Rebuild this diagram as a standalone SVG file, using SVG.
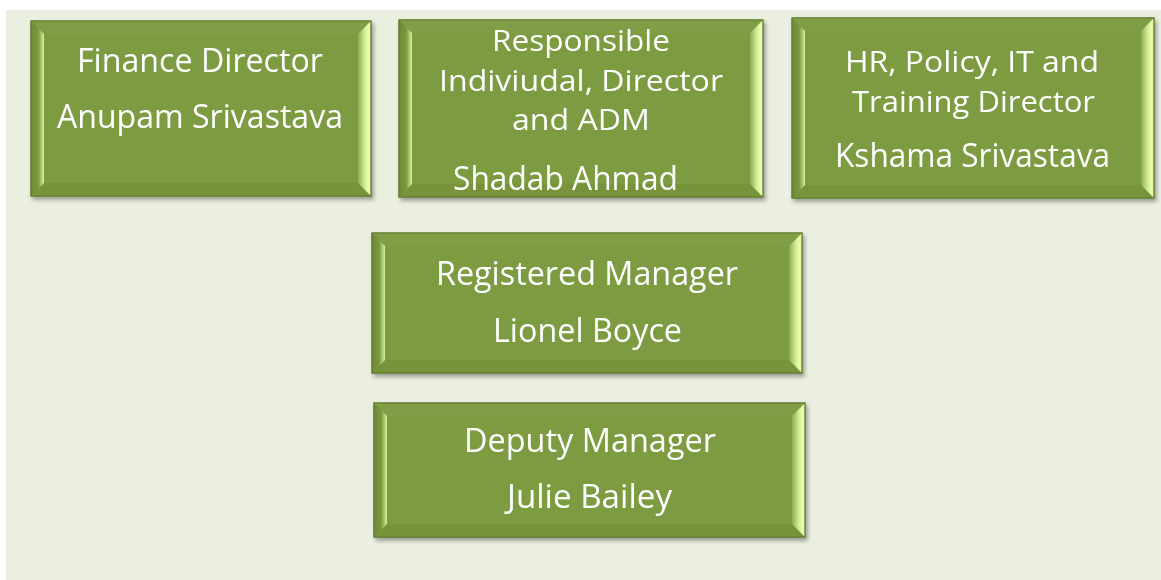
<svg xmlns="http://www.w3.org/2000/svg" width="1161" height="580" viewBox="0 0 1161 580">
<style>
.face{fill:#7D9B40;stroke:#5E7A2C;stroke-width:1}
.top{fill:#809E44}
.bot{fill:#77943B}
.lft{fill:url(#gl)}
.rgt{fill:url(#gr)}
.t{font-family:"Open Sans","Liberation Sans",sans-serif;font-size:32px;fill:#FFFFFF}
.tt{font-size:29px}
</style>
<defs>
<linearGradient id="gl" x1="0" y1="0" x2="1" y2="0">
<stop offset="0" stop-color="#6C8935"/>
<stop offset="0.55" stop-color="#7B983F"/>
<stop offset="0.85" stop-color="#B5D478"/>
<stop offset="1" stop-color="#D8F59C"/>
</linearGradient>
<linearGradient id="gr" x1="0" y1="0" x2="1" y2="0">
<stop offset="0" stop-color="#8DAC4F"/>
<stop offset="0.5" stop-color="#CFEA92"/>
<stop offset="0.85" stop-color="#F0FFB8"/>
<stop offset="1" stop-color="#B5D178"/>
</linearGradient>
<filter id="sh" x="-5%" y="-5%" width="112%" height="115%">
<feDropShadow dx="2" dy="3" stdDeviation="2" flood-color="#000" flood-opacity="0.35"/>
</filter>
</defs>
<rect x="0" y="0" width="1161" height="580" fill="#FFFFFF"/>
<rect x="6" y="10" width="1155" height="570" fill="#EBEFDF"/>
<g id="connectors"></g>

<g id="finance-director" filter="url(#sh)">
<rect class="face" x="31" y="21" width="340" height="175"/>
<polygon class="top" points="31,21 371,21 358,34 44,34"/>
<polygon class="bot" points="31,196 371,196 358,183 44,183"/>
<polygon class="lft" points="31,21 44,34 44,183 31,196"/>
<polygon class="rgt" points="371,21 358,34 358,183 371,196"/>
<rect x="31" y="21" width="340" height="175" fill="none" stroke="#5E7A2C" stroke-width="1"/>
<text class="t" x="77" y="72" textLength="246" lengthAdjust="spacingAndGlyphs">Finance Director</text>
<text class="t" x="57" y="128" textLength="286" lengthAdjust="spacingAndGlyphs">Anupam Srivastava</text>
</g>

<g id="responsible-individual" filter="url(#sh)">
<rect class="face" x="399" y="20" width="364" height="177"/>
<polygon class="top" points="399,20 763,20 750,33 412,33"/>
<polygon class="bot" points="399,197 763,197 750,184 412,184"/>
<polygon class="lft" points="399,20 412,33 412,184 399,197"/>
<polygon class="rgt" points="763,20 750,33 750,184 763,197"/>
<rect x="399" y="20" width="364" height="177" fill="none" stroke="#5E7A2C" stroke-width="1"/>
<text class="t tt" x="492" y="51" textLength="178" lengthAdjust="spacingAndGlyphs">Responsible</text>
<text class="t tt" x="439" y="91" textLength="284" lengthAdjust="spacingAndGlyphs">Indiviudal, Director</text>
<text class="t tt" x="512" y="130" textLength="138" lengthAdjust="spacingAndGlyphs">and ADM</text>
<text class="t" x="453" y="190" textLength="225" lengthAdjust="spacingAndGlyphs">Shadab Ahmad</text>
</g>

<g id="hr-director" filter="url(#sh)">
<rect class="face" x="792" y="18" width="362" height="180"/>
<polygon class="top" points="792,18 1154,18 1141,31 805,31"/>
<polygon class="bot" points="792,198 1154,198 1141,185 805,185"/>
<polygon class="lft" points="792,18 805,31 805,185 792,198"/>
<polygon class="rgt" points="1154,18 1141,31 1141,185 1154,198"/>
<rect x="792" y="18" width="362" height="180" fill="none" stroke="#5E7A2C" stroke-width="1"/>
<text class="t tt" x="845" y="72" textLength="254" lengthAdjust="spacingAndGlyphs">HR, Policy, IT and</text>
<text class="t tt" x="852" y="112" textLength="243" lengthAdjust="spacingAndGlyphs">Training Director</text>
<text class="t" x="835" y="167" textLength="275" lengthAdjust="spacingAndGlyphs">Kshama Srivastava</text>
</g>

<g id="registered-manager" filter="url(#sh)">
<rect class="face" x="372" y="233" width="430" height="140"/>
<polygon class="top" points="372,233 802,233 789,246 385,246"/>
<polygon class="bot" points="372,373 802,373 789,360 385,360"/>
<polygon class="lft" points="372,233 385,246 385,360 372,373"/>
<polygon class="rgt" points="802,233 789,246 789,360 802,373"/>
<rect x="372" y="233" width="430" height="140" fill="none" stroke="#5E7A2C" stroke-width="1"/>
<text class="t" x="436" y="285" textLength="302" lengthAdjust="spacingAndGlyphs">Registered Manager</text>
<text class="t" x="493" y="342" textLength="189" lengthAdjust="spacingAndGlyphs">Lionel Boyce</text>
</g>

<g id="deputy-manager" filter="url(#sh)">
<rect class="face" x="374" y="403" width="431" height="134"/>
<polygon class="top" points="374,403 805,403 792,416 387,416"/>
<polygon class="bot" points="374,537 805,537 792,524 387,524"/>
<polygon class="lft" points="374,403 387,416 387,524 374,537"/>
<polygon class="rgt" points="805,403 792,416 792,524 805,537"/>
<rect x="374" y="403" width="431" height="134" fill="none" stroke="#5E7A2C" stroke-width="1"/>
<text class="t" x="464" y="452" textLength="252" lengthAdjust="spacingAndGlyphs">Deputy Manager</text>
<text class="t" x="507" y="508" textLength="165" lengthAdjust="spacingAndGlyphs">Julie Bailey</text>
</g>
</svg>
